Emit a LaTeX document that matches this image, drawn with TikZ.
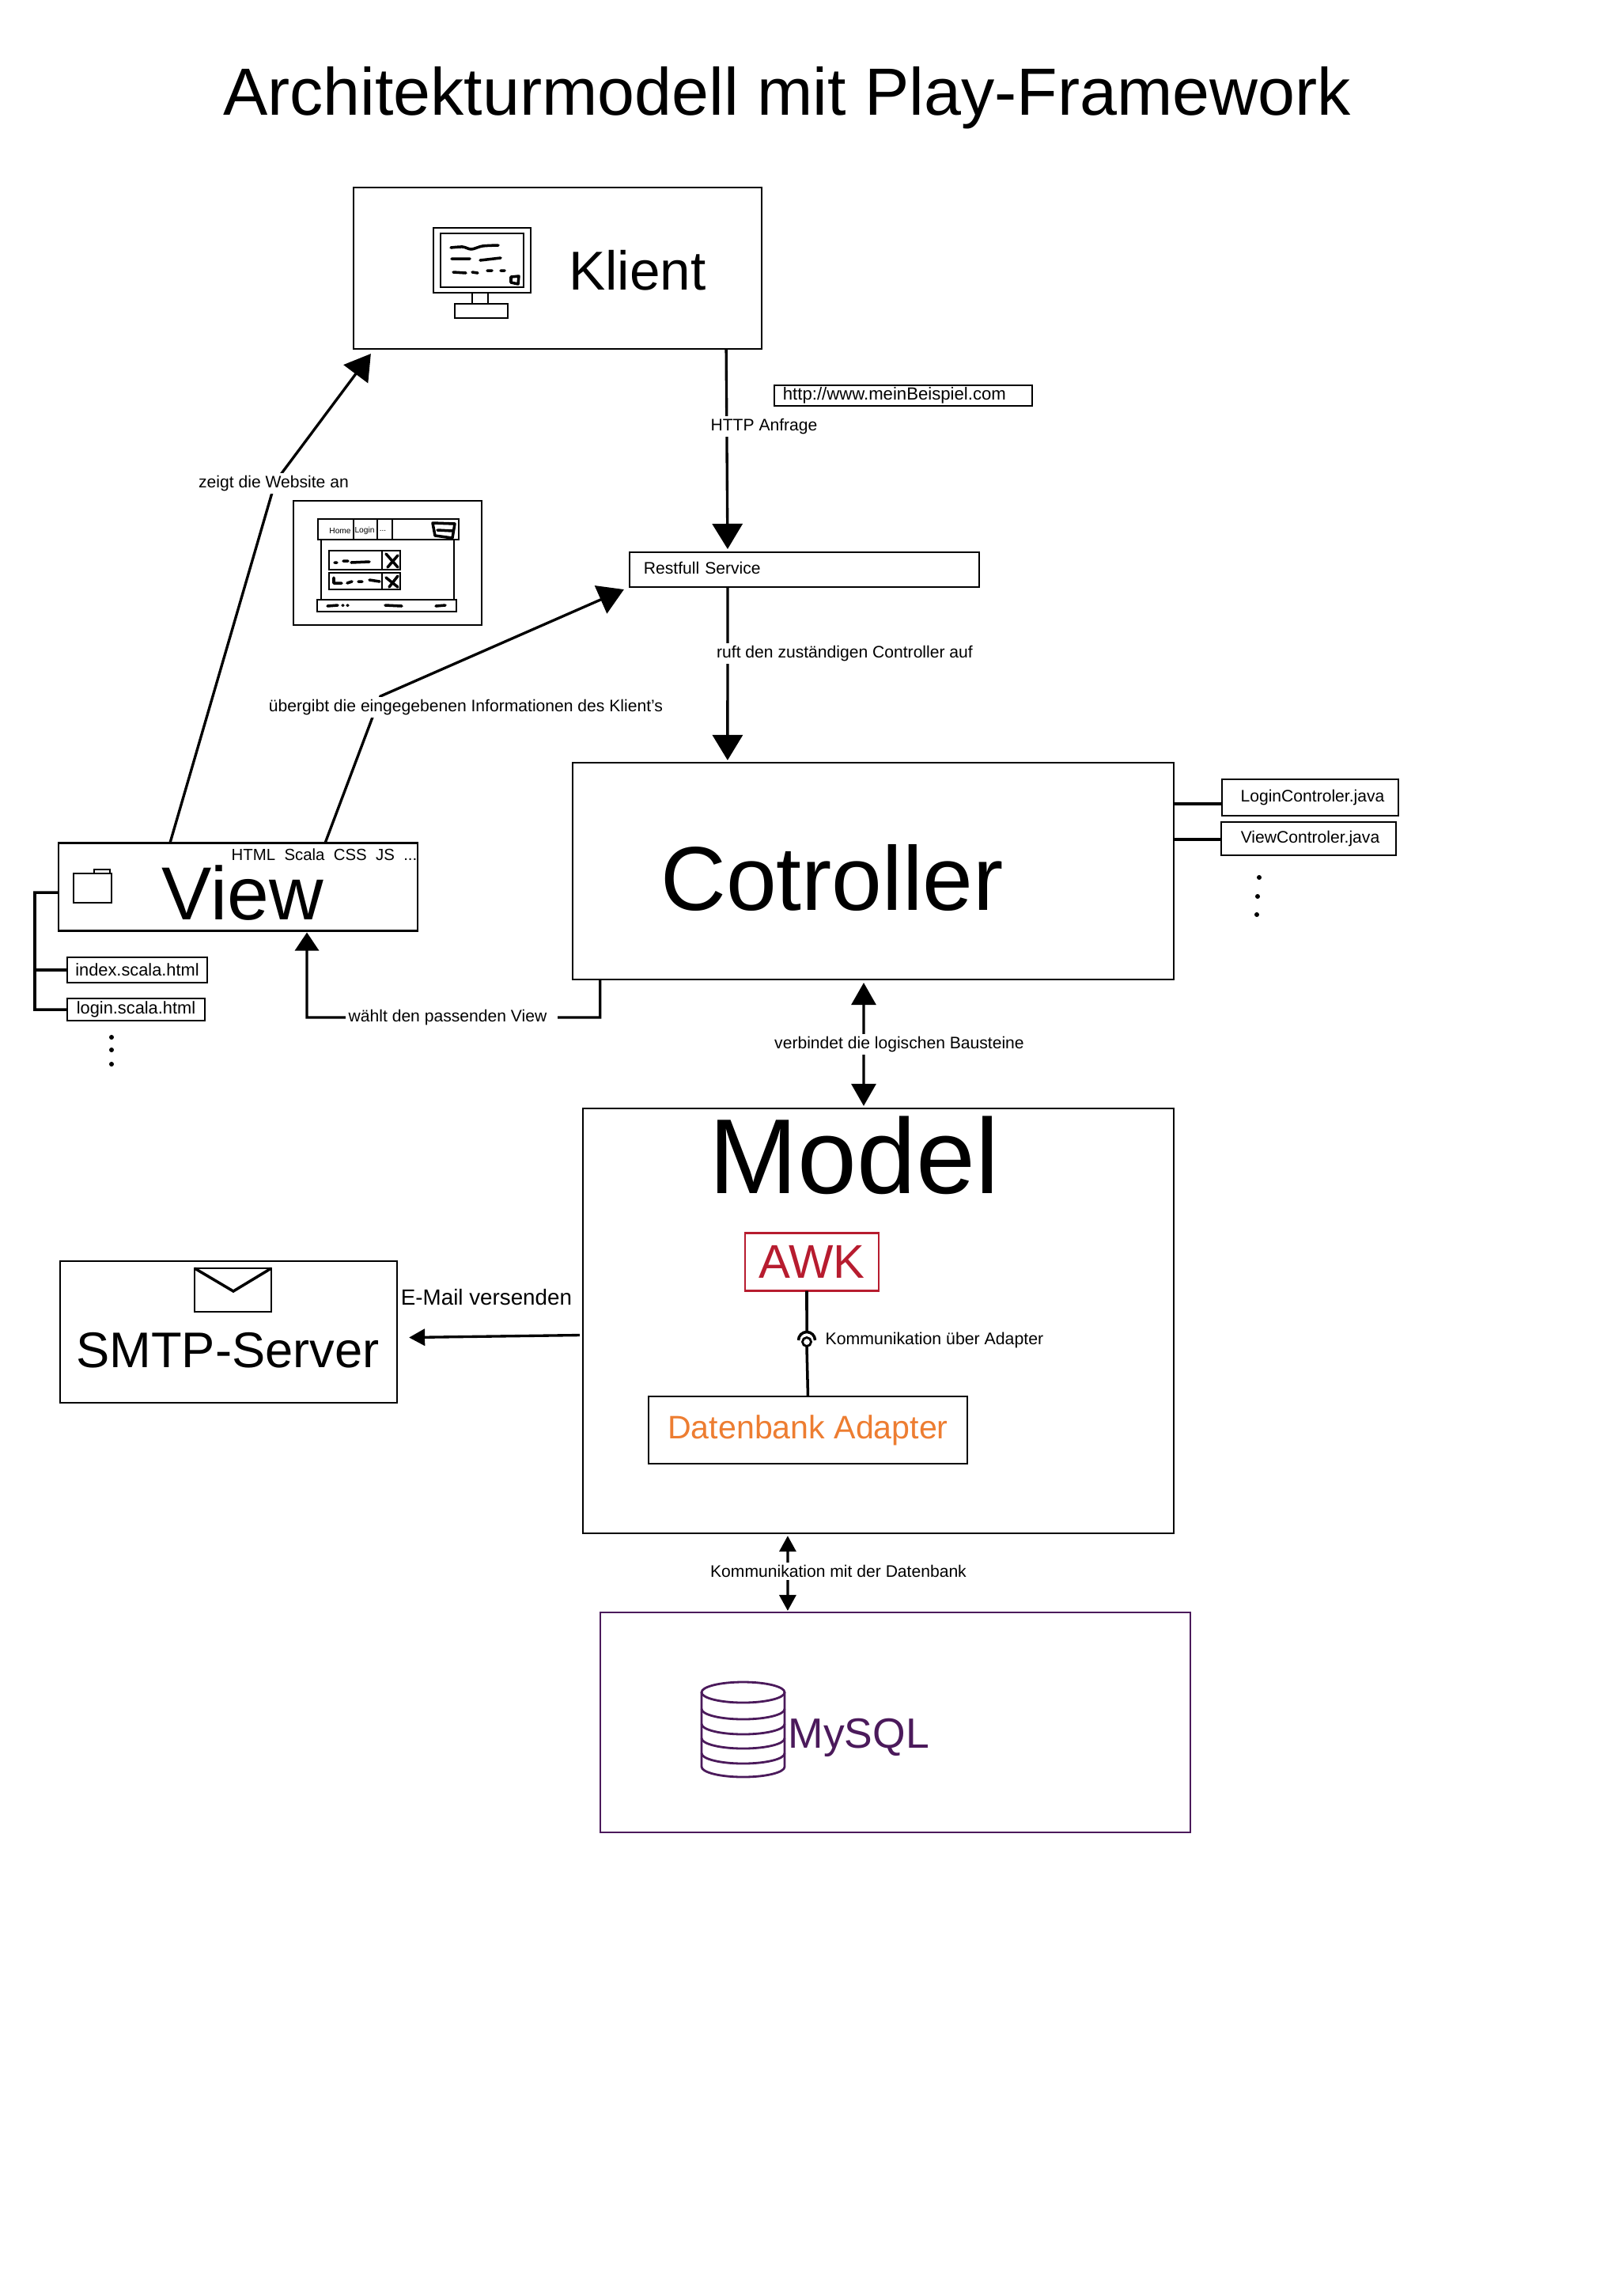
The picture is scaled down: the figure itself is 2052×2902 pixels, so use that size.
\documentclass[tikz,border=0pt]{standalone}
\usepackage{fontspec}
\setmainfont{Liberation Sans}
\usetikzlibrary{arrows.meta, calc}
\definecolor{awkred}{HTML}{B71C2F}
\definecolor{adapterorange}{HTML}{ED7D31}
\definecolor{sqlpurple}{HTML}{4B1A5B}
\newcommand{\fsize}[1]{\fontsize{#1pt}{#1pt}\selectfont}
\tikzset{
  box/.style = {rectangle, draw=black, line width=0.6pt, outer sep=0pt, inner sep=0pt},
  filebox/.style = {box, font=\fsize{6}},
  sketch/.style = {line width=0.7pt},
  scribble/.style = {line width=1pt, line cap=round, line join=round},
  tinytext/.style = {font=\fsize{2.9}, inner sep=0pt},
  note/.style = {font=\fsize{6}, inner sep=1pt},
  gapnote/.style = {note, fill=white},
  bigarrow/.style = {line width=0.95pt, -{Triangle[length=3.2mm, width=3.8mm]}},
  viewarrow/.style = {line width=0.95pt, -{Triangle[length=2.3mm, width=3mm]}},
  midarrow/.style = {line width=0.95pt, {Triangle[length=2.8mm, width=3.1mm]}-{Triangle[length=2.8mm, width=3.1mm]}},
  smallarrow/.style = {line width=0.95pt, {Triangle[length=2mm, width=2.1mm]}-{Triangle[length=2mm, width=2.1mm]}},
  mailarrow/.style = {line width=0.95pt, -{Triangle[length=2mm, width=2.1mm]}},
  link/.style = {line width=1pt}
}

\begin{document}
\begin{tikzpicture}[x=0.01cm, y=-0.01cm]
    \useasboundingbox (0,0) rectangle (2052,2902);

    % Title
    \node[font=\fsize{24}] (title) at (995,124) {Architekturmodell mit Play-Framework};

    % Client with its monitor
    \node[box, minimum width=5.16cm, minimum height=2.04cm] (klient) at (705,339) {};
    \node[font=\fsize{19.7}] (klienttext) at (806,342) {Klient};
    \draw[sketch] (548,288) rectangle (671,370);
    \draw[sketch] (557,295) rectangle (662,363);
    \draw[sketch] (597,370) rectangle (617,388);
    \draw[sketch, fill=white] (575,384) rectangle (642,402);
    \draw[scribble] plot[smooth] coordinates {(570,313) (585,312) (596,315) (610,311) (630,310)};
    \draw[scribble] (571,327) -- (594,327) (607,329) -- (633,326);
    \draw[scribble] (573,344) -- (589,345) (597,344) -- (604,345) (616,342) -- (622,342) (633,342) -- (638,342);
    \draw[scribble] (646,350) -- (656,349) -- (655,359) -- (646,357) -- cycle;

    % Website sketch
    \node[box, minimum width=2.38cm, minimum height=1.57cm] (website) at (490,711.5) {};
    \draw[sketch] (402,656) rectangle (580,682);
    \draw[sketch] (447,656) -- (447,682) (477,656) -- (477,682) (496,656) -- (496,682);
    \node[tinytext] (home) at (430,671) {Home};
    \node[tinytext] (login) at (461,671) {Login};
    \node[tinytext] (more) at (484,671) {...};
    \draw[sketch] (406,682) rectangle (574,758);
    \draw[sketch] (416,696) rectangle (483,720) (483,696) rectangle (506,720);
    \draw[sketch] (416,724) rectangle (483,745) (483,724) rectangle (506,745);
    \draw[sketch] (401,758) rectangle (577,773);
    \draw[scribble] (488,700) -- (503,717) (503,702) -- (490,717) (488,730) -- (503,742) (503,728) -- (492,742);
    \draw[scribble] (423,711) -- (426,711) (434,709) -- (440,709) (444,711) -- (467,710);
    \draw[scribble] (422,730) -- (422,737) -- (432,737) (439,737) -- (445,735) (453,735) -- (458,735) (467,733) -- (480,735);
    \draw[scribble] (414,766) -- (427,765) (433,765) -- (434,765) (439,765) -- (440,765) (487,765) -- (508,766) (551,766) -- (563,765);
    \draw[scribble] (547,661) -- (575,662) -- (572,680) -- (550,677) -- cycle (553,670) -- (572,671);

    % URL and service
    \node[filebox, font=\fsize{6.3}, text width=3.04cm, inner xsep=0.11cm, minimum height=0.26cm, align=left] (url) at (1142,500) {\raisebox{-0.015cm}{http://www.meinBeispiel.com}};
    \node[filebox, text width=4.06cm, inner xsep=0.18cm, minimum height=0.44cm, align=left] (restful) at (1017,720) {\raisebox{0.04cm}{Restfull Service}};

    % Controller and its files
    \node[box, minimum width=7.6cm, minimum height=2.74cm] (controller) at (1104,1101) {};
    \node[font=\fsize{32.6}] (controllertext) at (1052,1110) {Cotroller};
    \node[filebox, minimum width=2.23cm, minimum height=0.46cm] (logincontrol) at (1656.5,1008) {\hspace*{0.06cm}LoginControler.java};
    \node[filebox, minimum width=2.21cm, minimum height=0.42cm] (viewcontrol) at (1654.5,1060) {\hspace*{0.04cm}ViewControler.java};
    \draw[link] ([yshift=-0.08cm]controller.east |- logincontrol.west) -- ([yshift=-0.08cm]logincontrol.west);
    \draw[link] ([yshift=-0.01cm]controller.east |- viewcontrol.west) -- ([yshift=-0.01cm]viewcontrol.west);
    \foreach \px/\py in {1592/1109, 1590/1133, 1589/1156}
      \fill (\px,\py) circle (0.03cm);

    % View and its files
    \node[box, minimum width=4.54cm, minimum height=1.11cm] (view) at (301,1121) {};
    \node[font=\fsize{27}, anchor=base] (viewtext) at (307,1162) {View};
    \node[font=\fsize{5.8}, anchor=base west, inner sep=0pt] (viewtech) at (292,1087) {HTML\ \ Scala\ \ CSS\ \ JS\ \ ...};
    \draw[sketch, line width=0.6pt] (93,1104) rectangle (141,1141);
    \draw[sketch, line width=0.6pt] (119,1104) -- (119,1099) -- (139,1099) -- (139,1104);
    \node[filebox, font=\fsize{6.2}, minimum width=1.77cm, minimum height=0.32cm] (indexfile) at (173.5,1226) {index.scala.html};
    \node[filebox, font=\fsize{6.2}, minimum width=1.74cm, minimum height=0.28cm] (loginfile) at (172,1276) {login.scala.html};
    \coordinate (treetop) at (44,1128);
    \draw[link] ([yshift=-0.07cm]view.west) -- (treetop) -- (treetop |- loginfile.west) -- (loginfile.west);
    \draw[link] (treetop |- indexfile.west) -- (indexfile.west);
    \foreach \py in {1311, 1327, 1345}
      \fill (141,\py) circle (0.03cm);

    % Model with its inner boxes
    \node[box, minimum width=7.47cm, minimum height=5.37cm] (model) at (1110.5,1669.5) {};
    \node[font=\fsize{38.3}, anchor=base] (modeltext) at (1080,1508) {Model};
    \node[box, draw=awkred, text=awkred, minimum width=1.69cm, minimum height=0.73cm, font=\fsize{17}] (awk) at (1026.5,1595) {AWK};
    \node[box, text=adapterorange, minimum width=4.03cm, minimum height=0.85cm, font=\fsize{11.7}] (adapter) at (1021.5,1807.5) {Datenbank Adapter};
    \node[circle, draw=black, line width=0.8pt, minimum size=0.11cm, inner sep=0pt, outer sep=0pt] (socket) at (1020,1696) {};
    \draw[line width=1pt] ([xshift=-0.105cm,yshift=0.02cm]socket.center) arc[start angle=180, end angle=0, radius=0.105cm];
    \draw[link] ([xshift=-0.065cm]awk.south) -- ([yshift=0.08cm]socket.north);
    \draw[link] (socket.south) -- (adapter.north);
    \node[note, font=\fsize{6.05}, anchor=west, inner sep=0pt] (adapternote) at (1043,1694) {Kommunikation über Adapter};

    % Mail server
    \node[box, minimum width=4.26cm, minimum height=1.79cm] (smtp) at (289,1683.5) {};
    \node[font=\fsize{18}] (smtptext) at (288,1707) {SMTP-Server};
    \draw[sketch, line width=0.8pt] (246,1603) rectangle (343,1658);
    \draw[sketch, line width=1pt] (246,1603) -- (295,1632) -- (343,1603);
    \node[font=\fsize{7.9}, inner sep=0pt] (mailnote) at (615,1640) {E-Mail versenden};

    % Database
    \node[box, draw=sqlpurple, minimum width=7.46cm, minimum height=2.78cm] (mysql) at (1132,2177) {};
    \node[text=sqlpurple, font=\fsize{15.2}, anchor=base west, inner sep=0pt] (mysqltext) at (996,2209) {MySQL};
    \draw[sqlpurple, line width=0.8pt] (939.5,2139) ellipse [x radius=0.525cm, y radius=0.13cm];
    \draw[sqlpurple, line width=0.8pt] (887,2139) -- (887,2233) arc[start angle=180, end angle=360, x radius=0.525cm, y radius=0.13cm] -- (992,2139);
    \foreach \py in {2160, 2179, 2197, 2216}
      \draw[sqlpurple, line width=0.8pt] (887,\py) arc[start angle=180, end angle=360, x radius=0.525cm, y radius=0.13cm];

    % Arrows between the blocks
    \coordinate (sitebend) at (348,609);
    \coordinate (restbend) at (481,880);
    \coordinate (viewturn) at (388,1286);
    \draw[bigarrow] ([xshift=-0.86cm]view.north) -- (sitebend) -- ([xshift=0.22cm,yshift=-0.06cm]klient.south west);
    \draw[bigarrow] ([xshift=1.1cm]view.north) -- (restbend) -- ([xshift=-0.07cm,yshift=-0.03cm]restful.south west);
    \draw[bigarrow] ([xshift=2.13cm]klient.south) -- ([xshift=-0.97cm,yshift=0.04cm]restful.north);
    \draw[bigarrow] ([xshift=-0.97cm]restful.south) -- ([xshift=-1.84cm,yshift=0.03cm]controller.north);
    \draw[viewarrow] ([xshift=-3.45cm]controller.south) |- (viewturn) -- ([xshift=0.87cm,yshift=-0.02cm]view.south);
    \draw[midarrow] ([xshift=-0.12cm,yshift=-0.04cm]controller.south) -- ([xshift=-0.185cm,yshift=0.03cm]model.north);
    \draw[mailarrow] ([xshift=-0.04cm,yshift=-0.18cm]model.west) -- ([xshift=0.15cm,yshift=-0.07cm]smtp.east);
    \draw[smallarrow] ([xshift=-1.145cm,yshift=-0.03cm]model.south) -- ([xshift=-1.36cm,yshift=0.02cm]mysql.north);

    % Labels on the arrows
    \node[gapnote] (sitenote) at (346,611) {zeigt die Website an};
    \node[gapnote] (infonote) at (589,894) {übergibt die eingegebenen Informationen des Klient's};
    \node[gapnote] (httpnote) at (966,539) {HTTP Anfrage};
    \node[gapnote] (ruftnote) at (1068,826) {ruft den zuständigen Controller auf};
    \node[gapnote] (choosenote) at (571,1286) {wählt den passenden View\hspace*{0.1cm}};
    \node[gapnote] (linknote) at (1137,1320) {verbindet die logischen Bausteine};
    \node[gapnote] (dbnote) at (1060,1986) {Kommunikation mit der Datenbank};

  \end{tikzpicture}
\end{document}
